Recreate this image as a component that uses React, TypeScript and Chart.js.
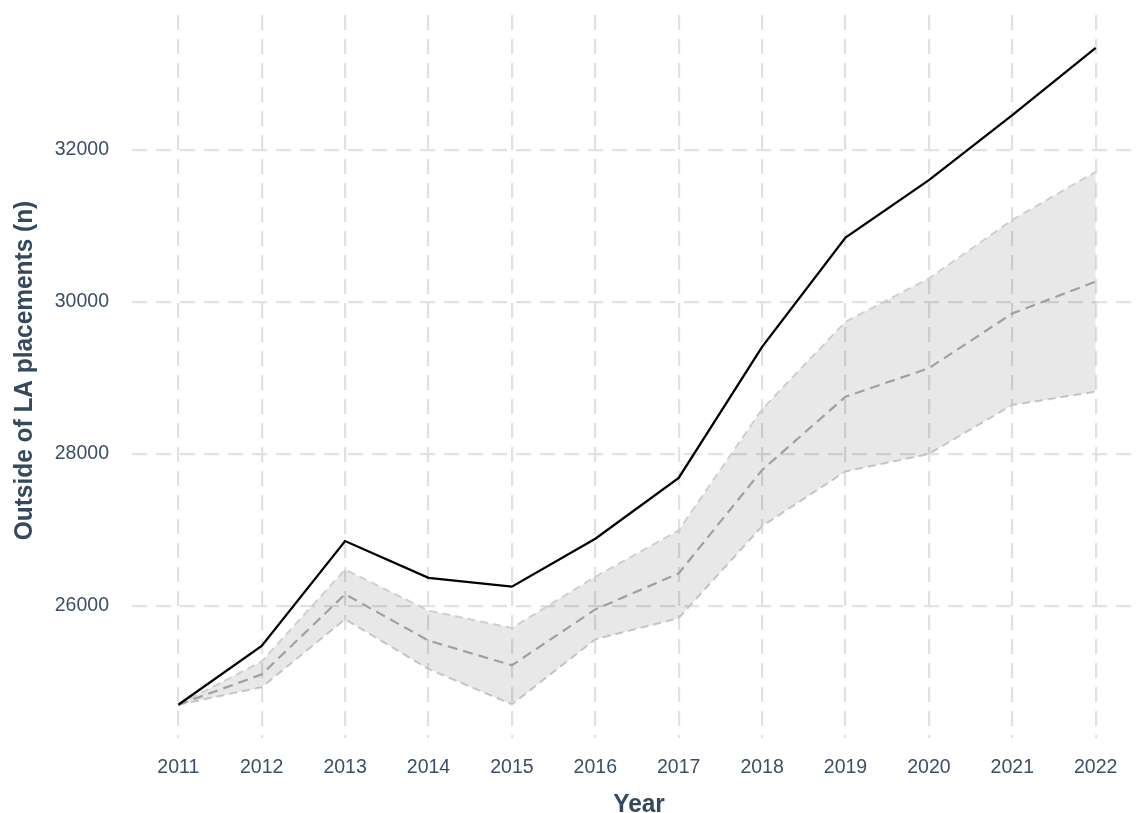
import { useEffect, useRef } from "react";
import { Chart, registerables } from "chart.js";

Chart.register(...registerables);

const years = [2011, 2012, 2013, 2014, 2015, 2016, 2017, 2018, 2019, 2020, 2021, 2022];
const actual = [24700, 25475, 26855, 26370, 26255, 26885, 27685, 29410, 30850, 31605, 32460, 33345];
const projected = [24700, 25100, 26155, 25545, 25220, 25955, 26430, 27790, 28755, 29130, 29850, 30270];
const upperBound = [24700, 25270, 26480, 25940, 25710, 26385, 26995, 28590, 29740, 30310, 31080, 31715];
const lowerBound = [24700, 24930, 25825, 25170, 24705, 25560, 25840, 27050, 27770, 28000, 28645, 28820];
const yTicks = [26000, 28000, 30000, 32000];
const X_TITLE = "Year";
const Y_TITLE = "Outside of LA placements (n)";

const TICK_COLOR = "#3d4f66";
const TITLE_COLOR = "#34495e";
const TICK_FONT = { family: '"Liberation Sans", Arial, sans-serif', size: 19.5 };

const titlePlugin = {
  id: "axisTitles",
  afterDraw(chart: any) {
    const ctx = chart.ctx as CanvasRenderingContext2D;
    const ca = chart.chartArea;
    ctx.save();
    ctx.fillStyle = TITLE_COLOR;
    ctx.font = 'bold 26px "Liberation Sans", Arial, sans-serif';
    ctx.textAlign = "center";
    ctx.textBaseline = "alphabetic";
    ctx.save();
    ctx.translate((ca.left + ca.right) / 2 + 3, chart.height - 1);
    ctx.scale(0.94, 1);
    ctx.fillText(X_TITLE, 0, 0);
    ctx.restore();
    ctx.save();
    ctx.translate(32, (ca.top + ca.bottom) / 2 - 6);
    ctx.rotate(-Math.PI / 2);
    ctx.scale(0.94, 1);
    ctx.fillText(Y_TITLE, 0, 0);
    ctx.restore();
    ctx.restore();
  },
};

export default function App() {
  const ref = useRef<HTMLCanvasElement>(null);

  useEffect(() => {
    if (!ref.current) return;
    const toXY = (arr: number[]) => arr.map((v, i) => ({ x: years[i], y: v }));
    const chart = new Chart(ref.current, {
      type: "line",
      data: {
        datasets: [
          {
            label: "Observed",
            data: toXY(actual),
            borderColor: "#000000",
            borderWidth: 2.3,
            pointRadius: 0,
            fill: false,
            tension: 0,
            order: 0,
          },
          {
            label: "Projected",
            data: toXY(projected),
            borderColor: "#a0a0a0",
            borderWidth: 2.2,
            borderDash: [10, 6],
            pointRadius: 0,
            fill: false,
            tension: 0,
            order: 1,
          },
          {
            label: "Upper",
            data: toXY(upperBound),
            borderColor: "#cfcfcf",
            borderWidth: 2,
            borderDash: [8, 5],
            pointRadius: 0,
            fill: "+1",
            backgroundColor: "rgba(0,0,0,0.09)",
            tension: 0,
            order: 2,
          },
          {
            label: "Lower",
            data: toXY(lowerBound),
            borderColor: "#cfcfcf",
            borderWidth: 2,
            borderDash: [8, 5],
            pointRadius: 0,
            fill: false,
            tension: 0,
            order: 3,
          },
        ],
      },
      options: {
        animation: false,
        responsive: false,
        layout: { padding: { top: 15, right: 0, left: 0, bottom: 0 } },
        plugins: {
          legend: { display: false },
          tooltip: { enabled: false },
        },
        scales: {
          x: {
            type: "linear",
            min: 2010.445,
            max: 2022.531,
            afterBuildTicks: (s: any) => {
              s.ticks = years.map((v) => ({ value: v }));
            },
            afterFit: (s: any) => {
              s.height = 75;
            },
            ticks: {
              callback: (v: any) => String(v),
              font: TICK_FONT,
              color: TICK_COLOR,
              padding: 18,
              autoSkip: false,
              maxRotation: 0,
            },
            grid: { color: "#e1e1e1", lineWidth: 2.2, drawTicks: false },
            border: { display: false, dash: [15, 9] },
          },
          y: {
            type: "linear",
            min: 24263,
            max: 33778,
            afterBuildTicks: (s: any) => {
              s.ticks = yTicks.map((v) => ({ value: v }));
            },
            afterFit: (s: any) => {
              s.width = 132;
              s.paddingTop = 0;
              s.paddingBottom = 0;
            },
            ticks: {
              callback: (v: any) => String(v),
              font: TICK_FONT,
              color: TICK_COLOR,
              padding: 23,
            },
            grid: { color: "#e1e1e1", lineWidth: 2.2, drawTicks: false },
            border: { display: false, dash: [15, 9] },
          },
        },
      },
      plugins: [titlePlugin],
    });
    return () => chart.destroy();
  }, []);

  return (
    <div style={{ position: "fixed", left: 0, top: 0, width: 1140, height: 813, background: "#ffffff" }}>
      <canvas ref={ref} width={1140} height={813} style={{ display: "block" }} />
    </div>
  );
}
